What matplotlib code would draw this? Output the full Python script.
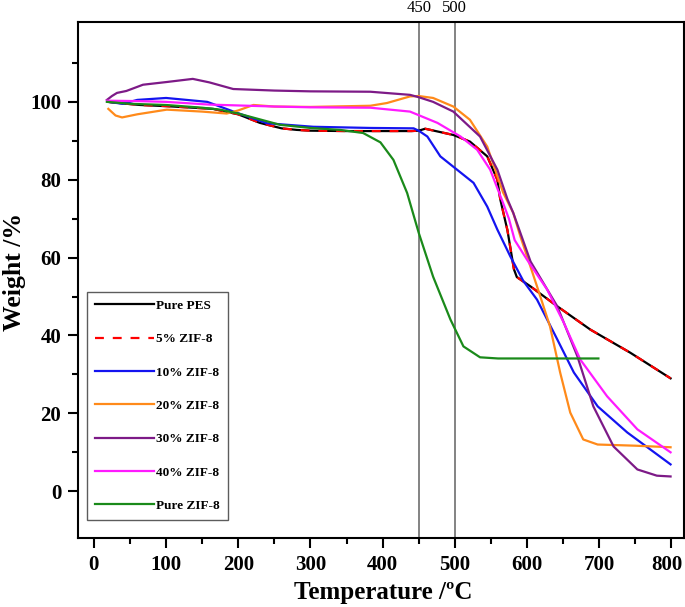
import matplotlib.pyplot as plt
from matplotlib.ticker import MultipleLocator, FixedLocator
import matplotlib.transforms as mtransforms

plt.rcParams['font.family'] = ['Liberation Serif', 'DejaVu Serif']
plt.rcParams['font.weight'] = 'bold'

# TGA curves (temperature in C, weight in %)
pes_t = [20, 40, 64, 100, 165, 200, 230, 260, 281, 300, 350, 400, 440, 450, 459, 476, 498,
         521, 545, 559, 563, 573, 582, 586, 605, 642, 688, 743, 799]
pes_w = [100, 99.6, 99.2, 98.9, 98.2, 96.8, 94.6, 93.2, 92.8, 92.6, 92.5, 92.5, 92.5, 92.6,
         93.1, 92.4, 91.5, 89.8, 86, 80, 75, 67, 57, 55, 52.6, 47.5, 41.5, 35.6, 29]

zif5_t = list(pes_t)
zif5_w = list(pes_w)

zif10_t = [20, 40, 60, 100, 157, 198, 240, 304, 383, 443, 450, 462, 480, 503, 526, 545, 559,
           577, 595, 614, 642, 665, 698, 739, 799]
zif10_w = [100, 99.5, 100.5, 101, 100, 97.2, 94.5, 93.6, 93.3, 93.2, 92.6, 91.1, 86, 82.6,
           79.2, 73.1, 67.2, 60.3, 54, 49.2, 39, 30.5, 21.8, 15.1, 6.9]

zif20_t = [20, 30, 39, 60, 101, 150, 184, 200, 221, 250, 300, 383, 406, 438, 450, 470, 498,
           521, 545, 567, 581, 591, 614, 632, 646, 660, 678, 698, 750, 799]
zif20_w = [98.2, 96.5, 96, 96.8, 98, 97.5, 97, 97.8, 99.2, 98.8, 98.7, 99, 99.7, 101.4, 101.5,
           101, 98.8, 95.4, 88.5, 76.7, 71.5, 65.4, 52.6, 42.3, 30.5, 20.2, 13.3, 12, 11.7, 11.3]

zif30_t = [18, 25, 32, 45, 68, 101, 137, 160, 193, 250, 300, 383, 438, 450, 470, 498, 535,
           559, 573, 581, 605, 642, 670, 692, 720, 753, 780, 799]
zif30_w = [100.5, 101.5, 102.3, 102.8, 104.4, 105.1, 105.9, 105, 103.3, 102.9, 102.7, 102.6,
           101.8, 101.2, 100, 97.5, 91.1, 82.6, 75, 71.5, 59, 47.5, 34.6, 21.8, 11.5, 5.6, 4, 3.8]

zif40_t = [18, 60, 100, 160, 250, 300, 383, 438, 476, 508, 531, 549, 567, 575, 583, 600, 628,
           651, 674, 711, 753, 799]
zif40_w = [100.3, 100.2, 100, 99.3, 98.8, 98.6, 98.5, 97.5, 94.6, 91.1, 87.7, 82.6, 74, 70,
           64.5, 59.5, 51.8, 43.3, 33.8, 24.4, 15.9, 10]

pure_zif_t = [18, 50, 100, 150, 175, 200, 230, 258, 300, 341, 373, 397, 415, 434, 450, 470,
              494, 512, 535, 560, 600, 650, 699]
pure_zif_w = [100, 99.5, 99.2, 98.5, 98, 97, 95.5, 94.1, 93.3, 92.8, 92, 89.6, 85.1, 76.6,
              66.4, 55.1, 44.1, 37.2, 34.4, 34.1, 34.1, 34.1, 34.1]

marker_temps = [450, 500]

fig = plt.figure(figsize=(6.85, 6.07), dpi=100)
ax = fig.add_axes([0.1139, 0.1137, 0.884, 0.850])

for t in marker_temps:
    ax.axvline(t, color='#7a7a7a', lw=1.3, zorder=1)

lw = 1.6
ax.plot(pes_t, pes_w, color='black', lw=lw, label='Pure PES')
ax.plot(zif5_t, zif5_w, color='red', lw=lw, ls=(0, (4, 4)), label='5% ZIF-8')
ax.plot(zif10_t, zif10_w, color='#1414f0', lw=lw, label='10% ZIF-8')
ax.plot(zif20_t, zif20_w, color='#ff8a1a', lw=lw, label='20% ZIF-8')
ax.plot(zif30_t, zif30_w, color='#7d1a87', lw=lw, label='30% ZIF-8')
ax.plot(zif40_t, zif40_w, color='#ff1aff', lw=lw, label='40% ZIF-8')
ax.plot(pure_zif_t, pure_zif_w, color='#1a8a1a', lw=lw, label='Pure ZIF-8')

ax.set_xlim(-22, 817)
ax.set_ylim(-12, 120.5)
ax.xaxis.set_major_locator(MultipleLocator(100))
ax.xaxis.set_minor_locator(MultipleLocator(50))
ax.yaxis.set_major_locator(FixedLocator([0, 20, 40, 60, 80, 100]))
ax.yaxis.set_minor_locator(FixedLocator([10, 30, 50, 70, 90, 110]))
ax.tick_params(which='major', direction='out', length=7, width=1.5, labelsize=15, pad=5)
ax.tick_params(which='minor', direction='out', length=4, width=1.5)
for lab in ax.get_xticklabels() + ax.get_yticklabels():
    lab.set_fontweight('bold')
for sp in ax.spines.values():
    sp.set_linewidth(1.5)

# nudge the last x tick label so it stays inside the figure
fig.canvas.draw()
last = [lab for lab in ax.get_xticklabels() if lab.get_text() == '800']
for lab in last:
    lab.set_transform(lab.get_transform() +
                      mtransforms.ScaledTranslation(-3 / 72, 0, fig.dpi_scale_trans))

ax.set_xlabel('Temperature /ºC', fontsize=18, fontweight='bold')
ax.set_ylabel('Weight /%', fontsize=18.5, fontweight='bold')
ax.xaxis.set_label_coords(0.5035, -0.083)
ax.yaxis.set_label_coords(-0.086, 0.516)

trans = mtransforms.blended_transform_factory(ax.transData, ax.transAxes)
for t in marker_temps:
    ax.text(t, 1.012, str(t), transform=trans, ha='center', va='bottom',
            fontsize=12, fontweight='normal')

leg = ax.legend(loc='lower left', bbox_to_anchor=(0.0149, 0.035), borderaxespad=0,
                fontsize=9.5, handlelength=4.5, handletextpad=0.15, labelspacing=1.6,
                frameon=True, fancybox=False, borderpad=0.6)
leg.get_frame().set_edgecolor('#333333')
leg.get_frame().set_linewidth(1.0)
for txt in leg.get_texts():
    txt.set_fontweight('bold')

fig.savefig('out.png', dpi=100)
